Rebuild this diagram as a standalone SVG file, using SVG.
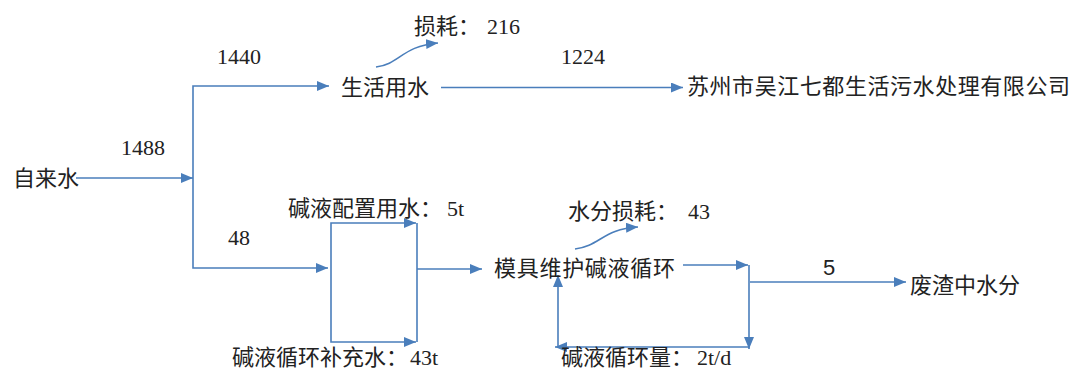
<svg xmlns="http://www.w3.org/2000/svg" width="1075" height="370" viewBox="0 0 1075 370">
<style>
.cn{font-family:"Noto Sans CJK SC","Noto Sans CJK JP",sans-serif;font-size:22px;fill:#222}
.num{font-family:"Liberation Serif",serif;font-size:22px;fill:#222}
.mono{font-family:"Liberation Serif",serif;font-size:22px}
.ln{fill:none;stroke:#4a7ebb;stroke-width:1.6}
.arr{marker-end:url(#ah)}
</style>
<defs>
<marker id="ah" viewBox="0 0 12 10" refX="12" refY="5" markerUnits="userSpaceOnUse" markerWidth="12" markerHeight="10" orient="auto">
<path d="M0,0 L12,5 L0,10 z" fill="#4a7ebb"/>
</marker>
</defs>
<g id="connectors">
<path class="ln arr" d="M76,178 H193"/>
<path class="ln arr" d="M193,178 V86 H329"/>
<path class="ln arr" d="M193,178 V268 H328"/>
<path class="ln arr" d="M376,67 C400,64 402,46 438,43"/>
<path class="ln arr" d="M441,87.5 H683"/>
<path class="ln arr" d="M331,268 V223 H416"/>
<path class="ln arr" d="M331,268 V342 H416"/>
<path class="ln" d="M417,223 V342"/>
<path class="ln arr" d="M417,269 H482"/>
<path class="ln arr" d="M575,249 C600,246 603,229 638,227"/>
<path class="ln arr" d="M683,265 H748"/>
<path class="ln arr" d="M749,265 V349"/>
<path class="ln arr" d="M749,347 H555"/>
<path class="ln arr" d="M558,347 V275"/>
<path class="ln arr" d="M750,282 H906"/>
</g>
<g id="labels">
<text class="num" x="217" y="64">1440</text>
<text class="num" x="121" y="155">1488</text>
<text class="num" x="561" y="64">1224</text>
<text class="num" x="228" y="245">48</text>
<text class="num" x="823" y="275" font-size="20" style="font-family:'Liberation Sans',sans-serif">5</text>
</g>
<g id="n-tapwater"><text class="cn" x="13" y="186">自来水</text></g>
<g id="n-domestic"><text class="cn" x="341" y="94.5">生活用水</text></g>
<g id="n-loss1"><text class="cn" x="414" y="34">损耗：<tspan class="mono" x="487">216</tspan></text></g>
<g id="n-plant"><text class="cn" x="687" y="93.5" textLength="383" lengthAdjust="spacing">苏州市吴江七都生活污水处理有限公司</text></g>
<g id="n-prep"><text class="cn" x="288" y="215.5">碱液配置用水：<tspan class="mono" x="447">5t</tspan></text></g>
<g id="n-makeup"><text class="cn" x="232" y="365">碱液循环补充水：<tspan class="mono" x="410">43t</tspan></text></g>
<g id="n-mold"><text class="cn" x="494" y="276" textLength="181" lengthAdjust="spacing">模具维护碱液循环</text></g>
<g id="n-loss2"><text class="cn" x="568" y="219">水分损耗：<tspan class="mono" x="688">43</tspan></text></g>
<g id="n-cycle"><text class="cn" x="561" y="365">碱液循环量：<tspan class="mono" x="697">2t/d</tspan></text></g>
<g id="n-slag"><text class="cn" x="910" y="293">废渣中水分</text></g>
</svg>
